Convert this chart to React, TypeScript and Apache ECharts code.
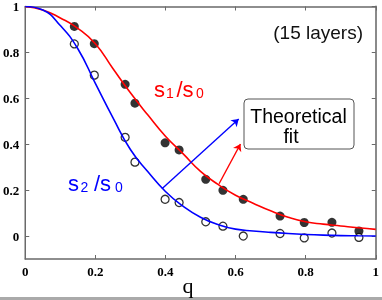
import React, { useEffect, useRef } from "react";
import * as echarts from "echarts";

// measured points (q, s/s0)
const qData = [0.14, 0.197, 0.285, 0.313, 0.399, 0.439, 0.515, 0.564, 0.622, 0.727, 0.796, 0.875, 0.952];
const s1Data = [0.913, 0.838, 0.661, 0.579, 0.406, 0.375, 0.247, 0.199, 0.16, 0.087, 0.059, 0.06, 0.022];
const s2Data = [0.837, 0.701, 0.43, 0.322, 0.16, 0.146, 0.062, 0.043, 0.0, 0.011, -0.008, 0.013, -0.006];

// theoretical fit curves
const qFit = [0, 0.05, 0.1, 0.15, 0.2, 0.25, 0.3, 0.35, 0.4, 0.45, 0.5, 0.55, 0.6, 0.65, 0.7, 0.75, 0.8, 0.85, 0.9, 0.95, 1.0];
const s1Fit = [1.0, 0.985, 0.95, 0.905, 0.838, 0.73, 0.624, 0.527, 0.435, 0.359, 0.282, 0.225, 0.178, 0.143, 0.11, 0.082, 0.062, 0.052, 0.044, 0.036, 0.029];
const s2Fit = [1.0, 0.985, 0.917, 0.816, 0.665, 0.516, 0.377, 0.28, 0.194, 0.13, 0.082, 0.05, 0.03, 0.022, 0.016, 0.011, 0.007, 0.004, 0.002, 0.001, 0.0];

// arrow annotations (start, end) in data coords
const blueArrow = [[0.39, 0.2065], [0.609, 0.51]];
const redArrow = [[0.553, 0.228], [0.614, 0.401]];

const yTicks = [0, 0.2, 0.4, 0.6, 0.8, 1];

const RED = "#ff0000";
const BLUE = "#0000ff";
const AXIS = "#6a6a6a";
const SANS = "'Liberation Sans', Arial, sans-serif";
const SERIF = "'Liberation Serif', 'Times New Roman', serif";

export default function App() {
  const ref = useRef<HTMLDivElement>(null);
  useEffect(() => {
    document.body.style.margin = "0";
    const chart = echarts.init(ref.current!, null, { renderer: "svg" });
    const labelStyle = { fontFamily: SERIF, fontSize: 13, fontWeight: "bold" as const, color: "#000" };
    const sub = (x: number, y: number, t: string, color: string, size: number) => ({
      type: "text",
      x,
      y,
      style: { text: t, fill: color, fontFamily: SANS, fontSize: size, align: "left", verticalAlign: "middle" },
    });
    chart.setOption({
      animation: false,
      grid: { left: 22, right: 2, top: 5, bottom: 41 },
      xAxis: [
        {
          type: "value",
          min: 0,
          max: 1,
          interval: 0.2,
          position: "bottom",
          axisLine: { show: true, onZero: false, lineStyle: { color: AXIS, width: 1.5 } },
          axisTick: { show: true, inside: true, length: 4, lineStyle: { color: AXIS } },
          axisLabel: { ...labelStyle, margin: 6, formatter: (v: number) => String(Math.round(v * 10) / 10) },
          splitLine: { show: false },
        },
        {
          type: "value",
          min: 0,
          max: 1,
          interval: 0.2,
          position: "top",
          axisLine: { show: true, onZero: false, lineStyle: { color: AXIS, width: 1.5 } },
          axisTick: { show: true, inside: true, length: 4, lineStyle: { color: AXIS } },
          axisLabel: { show: false },
          splitLine: { show: false },
        },
      ],
      yAxis: [
        {
          type: "value",
          min: -0.1,
          max: 1,
          position: "left",
          axisLine: { show: true, onZero: false, lineStyle: { color: AXIS, width: 1.5 } },
          axisTick: { show: true, inside: true, length: 4, customValues: yTicks, lineStyle: { color: AXIS } },
          axisLabel: {
            ...labelStyle,
            margin: 6,
            customValues: yTicks,
            formatter: (v: number) => String(Math.round(v * 10) / 10),
          },
          splitLine: { show: false },
        },
        {
          type: "value",
          min: -0.1,
          max: 1,
          position: "right",
          axisLine: { show: true, onZero: false, lineStyle: { color: "#8a8a8a", width: 2 } },
          axisTick: { show: true, inside: true, length: 4, customValues: yTicks, lineStyle: { color: AXIS } },
          axisLabel: { show: false, customValues: yTicks },
          splitLine: { show: false },
        },
      ],
      series: [
        {
          type: "scatter",
          data: qData.map((q, i) => [q, s1Data[i]]),
          symbol: "circle",
          symbolSize: 9,
          itemStyle: { color: "#000" },
          z: 2,
        },
        {
          type: "scatter",
          data: qData.map((q, i) => [q, s2Data[i]]),
          symbol: "circle",
          symbolSize: 8,
          itemStyle: { color: "#fff", borderColor: "#000", borderWidth: 1.3 },
          z: 2,
        },
        {
          type: "line",
          data: qFit.map((q, i) => [q, s1Fit[i]]),
          smooth: true,
          showSymbol: false,
          lineStyle: { color: RED, width: 1.6 },
          z: 3,
          markLine: {
            silent: true,
            symbol: ["none", "arrow"],
            symbolSize: 7,
            label: { show: false },
            lineStyle: { color: RED, width: 1.4, type: "solid" },
            data: [[{ coord: redArrow[0] }, { coord: redArrow[1] }]],
          },
        },
        {
          type: "line",
          data: qFit.map((q, i) => [q, s2Fit[i]]),
          smooth: true,
          showSymbol: false,
          lineStyle: { color: BLUE, width: 1.6 },
          z: 3,
          markLine: {
            silent: true,
            symbol: ["none", "arrow"],
            symbolSize: 7,
            label: { show: false },
            lineStyle: { color: BLUE, width: 1.4, type: "solid" },
            data: [[{ coord: blueArrow[0] }, { coord: blueArrow[1] }]],
          },
        },
      ],
      graphic: [
        {
          type: "rect",
          z: 0,
          shape: { x: 0, y: 297, width: 382, height: 3 },
          style: { fill: "#aaaaaa" },
        },
        {
          type: "text",
          x: 363,
          y: 32,
          style: { text: "(15 layers)", fill: "#111", fontFamily: SANS, fontSize: 19, align: "right", verticalAlign: "middle" },
        },
        {
          type: "rect",
          shape: { x: 244, y: 99, width: 110, height: 50, r: 4 },
          style: { fill: "#fff", stroke: "#555", lineWidth: 1 },
        },
        {
          type: "text",
          x: 298.5,
          y: 116,
          style: { text: "Theoretical", fill: "#000", fontFamily: SANS, fontSize: 19.5, align: "center", verticalAlign: "middle" },
        },
        {
          type: "text",
          x: 291,
          y: 136,
          style: { text: "fit", fill: "#000", fontFamily: SANS, fontSize: 19.5, align: "center", verticalAlign: "middle" },
        },
        sub(154, 89, "s", RED, 22),
        sub(166, 93, "1", RED, 14),
        sub(176.5, 89, "/s", RED, 22),
        sub(196, 93, "0", RED, 14),
        sub(68, 183, "s", BLUE, 22),
        sub(80.5, 187, "2", BLUE, 14),
        sub(94, 183, "/s", BLUE, 22),
        sub(115, 187, "0", BLUE, 14),
        {
          type: "text",
          x: 188,
          y: 285,
          z: 10,
          style: { text: "q", fill: "#000", fontFamily: SERIF, fontSize: 22, align: "center", verticalAlign: "middle" },
        },
      ],
    });
    return () => chart.dispose();
  }, []);
  return <div ref={ref} style={{ position: "fixed", left: 0, top: 0, width: 382, height: 300 }} />;
}
